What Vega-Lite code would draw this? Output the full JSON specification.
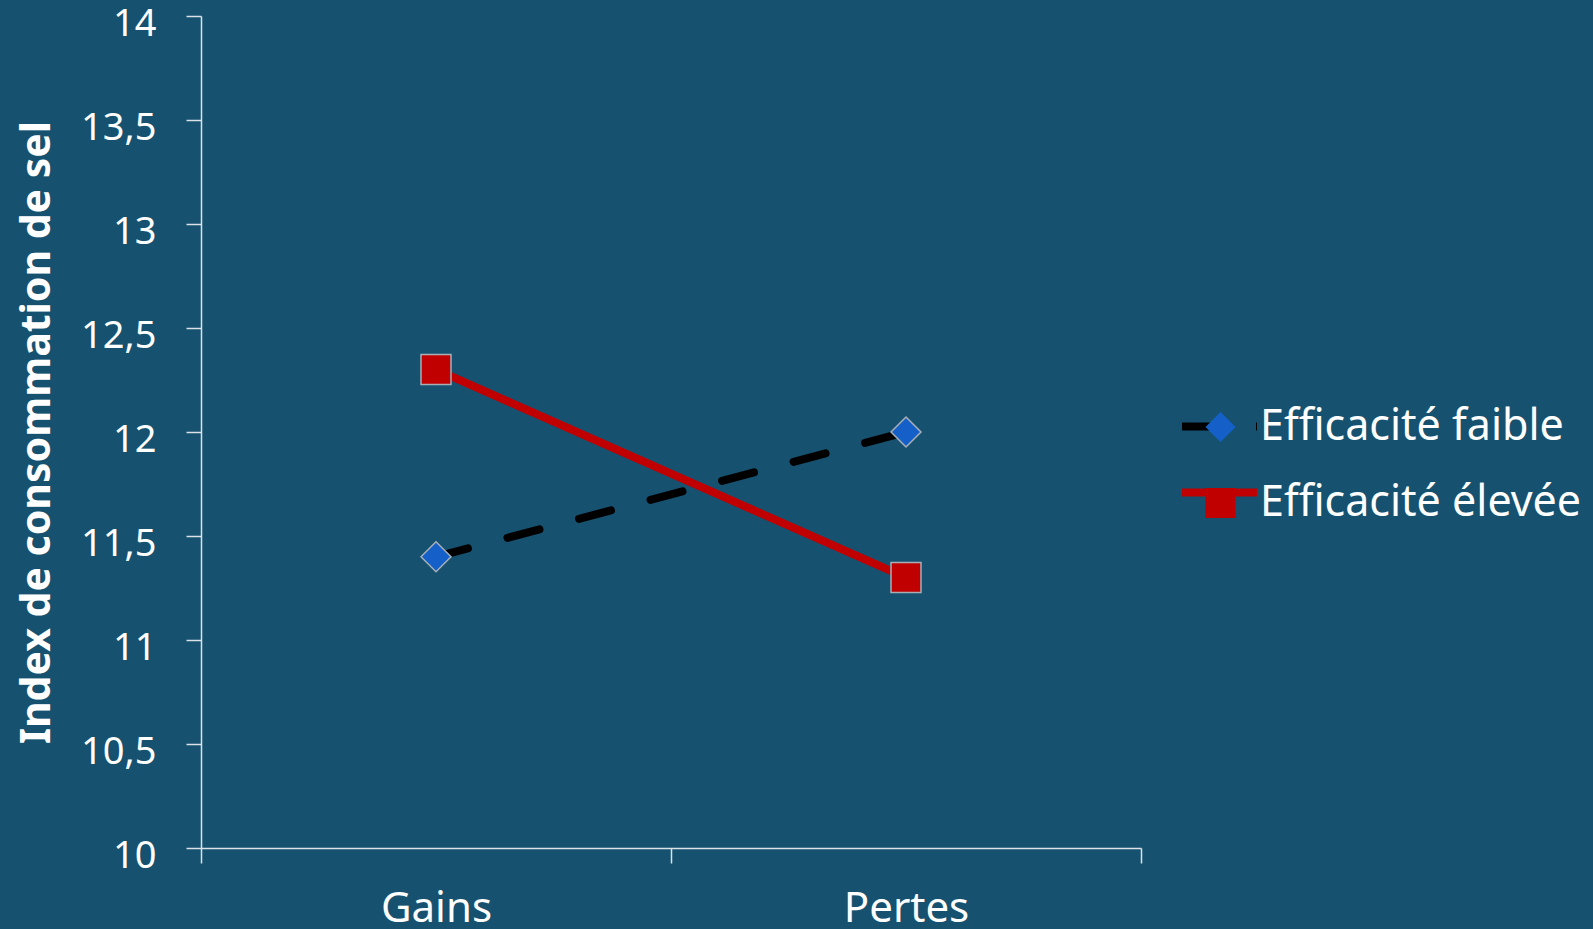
{
  "$schema": "https://vega.github.io/schema/vega-lite/v6.json",
  "width": 940,
  "height": 832,
  "autosize": "none",
  "padding": {"left": 201, "top": 16, "right": 452, "bottom": 81},
  "background": "#165270",
  "config": {
    "view": {"stroke": null},
    "font": "Noto Sans",
    "axis": {
      "domainColor": "#DCE3E8",
      "tickColor": "#DCE3E8",
      "domainWidth": 1.5,
      "tickWidth": 1.5,
      "labelColor": "#FFFFFF",
      "titleColor": "#FFFFFF",
      "grid": false
    },
    "legend": {"labelColor": "#FFFFFF", "padding": 0, "labelLimit": 0}
  },
  "data": {
    "values": [
      {"condition": "Gains", "group": "Efficacité faible", "value": 11.4},
      {"condition": "Pertes", "group": "Efficacité faible", "value": 12.0},
      {"condition": "Gains", "group": "Efficacité élevée", "value": 12.3},
      {"condition": "Pertes", "group": "Efficacité élevée", "value": 11.3}
    ]
  },
  "encoding": {
    "x": {
      "field": "condition",
      "type": "nominal",
      "sort": ["Gains", "Pertes"],
      "scale": {"paddingInner": 0, "paddingOuter": 0},
      "axis": {
        "title": null,
        "labelAngle": 0,
        "tickBand": "extent",
        "tickSize": 15,
        "labelFontSize": 42,
        "labelPadding": 25
      }
    },
    "y": {
      "field": "value",
      "type": "quantitative",
      "scale": {"domain": [10, 14], "nice": false, "zero": false},
      "axis": {
        "title": "Index de consommation de sel",
        "titleFontSize": 41,
        "titleFontWeight": "bold",
        "titlePadding": 22,
        "values": [10, 10.5, 11, 11.5, 12, 12.5, 13, 13.5, 14],
        "labelExpr": "replace(toString(datum.value), '.', ',')",
        "labelFontSize": 38,
        "labelPadding": 30,
        "labelOffset": 8,
        "tickSize": 15
      }
    }
  },
  "layer": [
    {
      "mark": {"type": "line", "strokeWidth": 8, "strokeCap": "round"},
      "encoding": {
        "stroke": {
          "field": "group",
          "type": "nominal",
          "scale": {"domain": ["Efficacité faible", "Efficacité élevée"], "range": ["#000000", "#C00000"]},
          "legend": {
            "orient": "none",
            "legendX": 977,
            "legendY": 369,
            "title": null,
            "symbolType": "stroke",
            "symbolSize": 5625,
            "symbolStrokeWidth": 8,
            "labelExpr": "''",
            "labelFontSize": 40,
            "rowPadding": 4
          }
        },
        "strokeDash": {
          "field": "group",
          "type": "nominal",
          "scale": {"domain": ["Efficacité faible", "Efficacité élevée"], "range": [[33, 41], [1, 0]]},
          "legend": {
            "orient": "none",
            "legendX": 977,
            "legendY": 369,
            "title": null,
            "symbolType": "stroke",
            "symbolSize": 5625,
            "symbolStrokeWidth": 8,
            "labelExpr": "''",
            "labelFontSize": 40,
            "rowPadding": 4
          }
        }
      }
    },
    {
      "mark": {"type": "point", "filled": true, "size": 900, "stroke": "#A7AEB6", "strokeWidth": 1.5, "opacity": 1},
      "encoding": {
        "fill": {
          "field": "group",
          "type": "nominal",
          "scale": {"range": ["#1560C8", "#C00000"]},
          "legend": {
            "orient": "none",
            "legendX": 998,
            "legendY": 389.5,
            "title": null,
            "symbolSize": 900,
            "symbolStrokeColor": "#A7AEB6",
            "symbolStrokeWidth": 1.5,
            "symbolOpacity": 1,
            "labelFontSize": 43,
            "labelOffset": 18,
            "rowPadding": 32
          }
        },
        "shape": {
          "field": "group",
          "type": "nominal",
          "scale": {"range": ["diamond", "square"]},
          "legend": {
            "orient": "none",
            "legendX": 998,
            "legendY": 389.5,
            "title": null,
            "symbolSize": 900,
            "symbolStrokeColor": "#A7AEB6",
            "symbolStrokeWidth": 1.5,
            "symbolOpacity": 1,
            "labelFontSize": 43,
            "labelOffset": 18,
            "rowPadding": 32
          }
        }
      }
    }
  ]
}
